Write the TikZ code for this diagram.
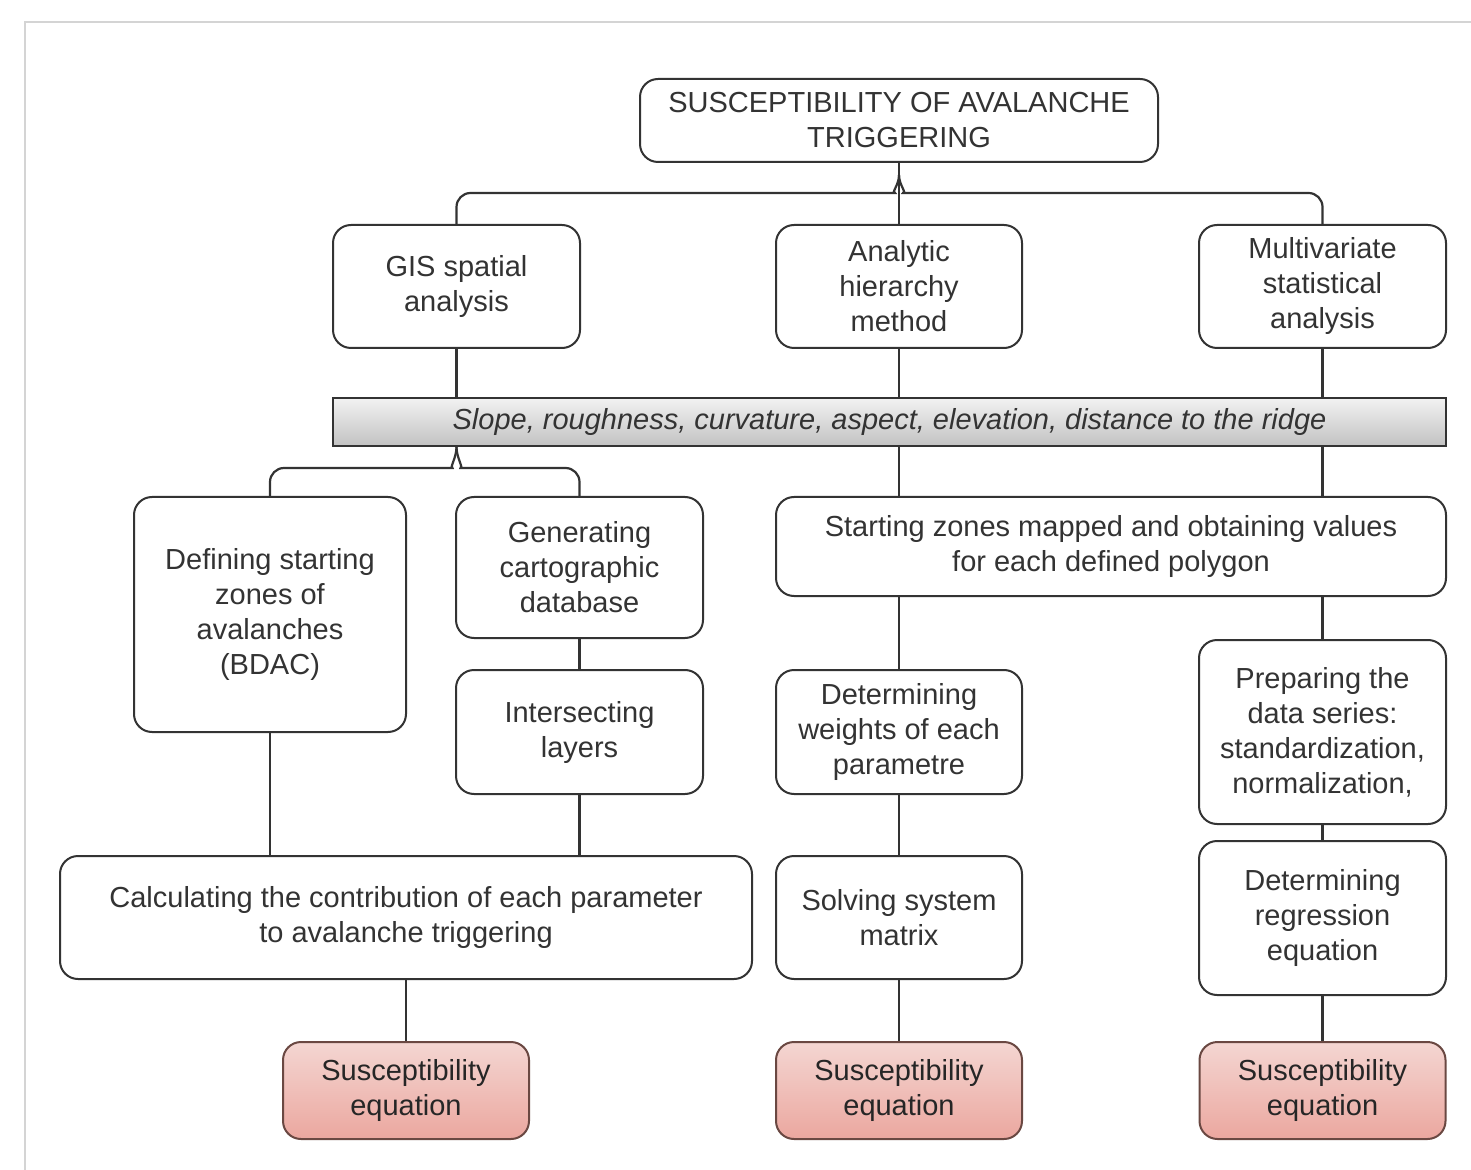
\documentclass[tikz,border=0pt]{standalone}
\usepackage{fontspec}
\setmainfont{Liberation Sans}
\usetikzlibrary{calc}
\definecolor{ink}{HTML}{333333}
\definecolor{frame}{HTML}{D4D4D4}
\definecolor{pinktop}{HTML}{F4D6D2}
\definecolor{pinkbot}{HTML}{EBA79F}
\definecolor{pinkline}{HTML}{6A4842}
\definecolor{bartop}{HTML}{F2F2F2}
\definecolor{barbot}{HTML}{C2C2C2}
\tikzset{
  box/.style={draw=ink, line width=1pt, rounded corners=9pt, fill=white,
    align=center, text=ink, inner sep=2pt,
    font=\fontsize{14.5}{17.5}\selectfont},
  resbox/.style={box, draw=pinkline, top color=pinktop, bottom color=pinkbot, text=black!85},
  barbox/.style={draw=ink, line width=1pt, top color=bartop, bottom color=barbot,
    align=center, text=ink, inner sep=2pt,
    font=\fontsize{14.5}{17.5}\selectfont\itshape},
  conn/.style={draw=ink, line width=1.1pt},
  framel/.style={draw=frame, line width=0.6pt}
}
\begin{document}
\begin{tikzpicture}[x=0.5pt,y=-0.5pt]
\useasboundingbox (0,0) rectangle (1471,1170);
\draw[framel] (25,1170) -- (25,22) -- (1471,22);

% nodes
\node[box, minimum width=259pt, minimum height=41.5pt] (top) at (899,120.5) {SUSCEPTIBILITY OF AVALANCHE\\TRIGGERING};
\node[box, minimum width=123.5pt, minimum height=61.5pt] (gis) at (456.5,286.5) {GIS spatial\\analysis};
\node[box, minimum width=123pt, minimum height=61.5pt] (ahm) at (899,286.5) {Analytic\\hierarchy\\method};
\node[box, minimum width=123.5pt, minimum height=61.5pt] (msa) at (1322.5,286.5) {Multivariate\\statistical\\analysis};
\node[barbox, minimum width=556.5pt, minimum height=24pt] (bar) at (889.5,422) {Slope, roughness, curvature, aspect, elevation, distance to the ridge};
\node[box, minimum width=136pt, minimum height=117.5pt] (def) at (270,614.5) {Defining starting\\zones of\\avalanches\\(BDAC)};
\node[box, minimum width=123.5pt, minimum height=70.5pt] (gen) at (579.5,567.5) {Generating\\cartographic\\database};
\node[box, minimum width=123.5pt, minimum height=62pt] (int) at (579.5,732) {Intersecting\\layers};
\node[box, minimum width=335pt, minimum height=49.5pt] (szm) at (1111,546.5) {Starting zones mapped and obtaining values\\for each defined polygon};
\node[box, minimum width=123pt, minimum height=62pt] (wts) at (899,732) {Determining\\weights of each\\parametre};
\node[box, minimum width=123.5pt, minimum height=92pt] (prep) at (1322.5,732) {Preparing the\\data series:\\standardization,\\normalization,};
\node[box, minimum width=123.5pt, minimum height=77pt] (reg) at (1322.5,918) {Determining\\regression\\equation};
\node[box, minimum width=346pt, minimum height=61.5pt] (calc) at (406,917.5) {Calculating the contribution of each parameter\\to avalanche triggering};
\node[box, minimum width=123pt, minimum height=61.5pt] (solv) at (899,917.5) {Solving system\\matrix};
\node[resbox, minimum width=123pt, minimum height=48.5pt] (eq1) at (406,1090.5) {Susceptibility\\equation};
\node[resbox, minimum width=123pt, minimum height=48.5pt] (eq2) at (899,1090.5) {Susceptibility\\equation};
\node[resbox, minimum width=123pt, minimum height=48.5pt] (eq3) at (1322.5,1090.5) {Susceptibility\\equation};

% connectors: top brace
\coordinate (tj) at (top.south);
\draw[conn] (top.south) -- (ahm.north);
\draw[conn, rounded corners=7pt] (gis.north) |- ([xshift=-9pt,yshift=-15pt]tj) to[out=0,in=-90] ([yshift=-6pt]tj);
\draw[conn, rounded corners=7pt] (msa.north) |- ([xshift=9pt,yshift=-15pt]tj) to[out=180,in=-90] ([yshift=-6pt]tj);

% to bar
\draw[conn] (gis.south) -- (gis.south |- bar.north);
\draw[conn] (ahm.south) -- (ahm.south |- bar.north);
\draw[conn] (msa.south) -- (msa.south |- bar.north);

% bottom brace from bar
\coordinate (bj) at (bar.south -| gis.south);
\draw[conn, rounded corners=7pt] (def.north) |- ([xshift=-9pt,yshift=-10.5pt]bj) to[out=0,in=-90] (bj);
\draw[conn, rounded corners=7pt] (gen.north) |- ([xshift=9pt,yshift=-10.5pt]bj) to[out=180,in=-90] (bj);

\draw[conn] (bar.south -| ahm.south) -- (szm.north -| ahm.south);
\draw[conn] (bar.south -| msa.south) -- (szm.north -| msa.south);
\draw[conn] (szm.south -| wts.north) -- (wts.north);
\draw[conn] (szm.south -| prep.north) -- (prep.north);

\draw[conn] (gen.south) -- (int.north);
\draw[conn] (def.south) -- (def.south |- calc.north);
\draw[conn] (int.south) -- (int.south |- calc.north);
\draw[conn] (wts.south) -- (solv.north);
\draw[conn] (prep.south) -- (reg.north);

\draw[conn] (calc.south) -- (eq1.north);
\draw[conn] (solv.south) -- (eq2.north);
\draw[conn] (reg.south) -- (eq3.north);
\end{tikzpicture}
\end{document}
